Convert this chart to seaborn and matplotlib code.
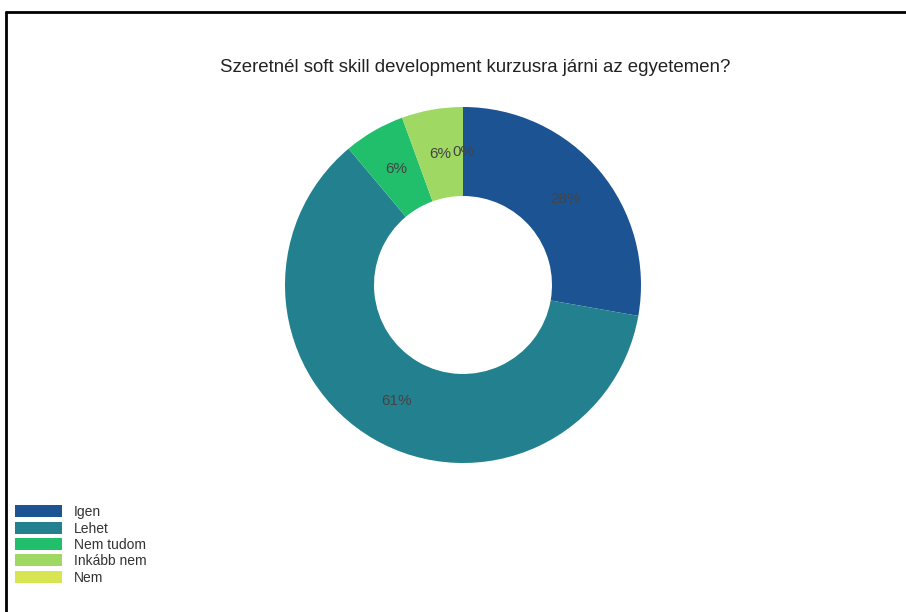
import matplotlib
matplotlib.use("Agg")
import matplotlib.pyplot as plt
from matplotlib.patches import Patch
from matplotlib.lines import Line2D
import seaborn as sns

categories = ["Igen", "Lehet", "Nem tudom", "Inkább nem", "Nem"]
counts = [5, 11, 1, 1, 0]
colors_hex = ["#1c5393", "#23818f", "#21be6b", "#9fd863", "#d8e552"]
title = "Szeretnél soft skill development kurzusra járni az egyetemen?"

sns.set_theme(style="white")
plt.rcParams["font.family"] = ["Liberation Sans", "DejaVu Sans"]

palette = sns.color_palette(colors_hex)

W, H = 906, 612
fig = plt.figure(figsize=(W / 100, H / 100), dpi=100)
fig.patch.set_facecolor("white")

cx, cy, r = 463, 285, 178
ax = fig.add_axes([(cx - r) / W, (H - cy - r) / H, 2 * r / W, 2 * r / H])
wedges, texts, autotexts = ax.pie(
    counts, colors=palette, startangle=90, counterclock=False, radius=1,
    wedgeprops=dict(width=0.5, linewidth=0), autopct="%.0f%%", pctdistance=0.75,
    textprops=dict(color="#444444", fontsize=11),
)
ax.set_xlim(-1, 1)
ax.set_ylim(-1, 1)
ax.set_aspect("equal")
ax.axis("off")

fig.text(475 / W, 1 - 67 / H, title, ha="center", va="center", fontsize=13.4, color="#222222")

handles = [Patch(facecolor=c, edgecolor="none") for c in palette]
leg = fig.legend(handles, categories, loc="lower left", bbox_to_anchor=(14 / W, 26 / H),
                 frameon=False, fontsize=10, handlelength=3.35, handleheight=0.95,
                 handletextpad=0.85, labelspacing=0.17, borderpad=0.1, borderaxespad=0)
for t in leg.get_texts():
    t.set_color("#333333")

fig.add_artist(Line2D([6 / W, 1.0], [1 - 12 / H, 1 - 12 / H], color="black", linewidth=2, transform=fig.transFigure))
fig.add_artist(Line2D([6 / W, 6 / W], [1 - 12 / H, 0.0], color="black", linewidth=2, transform=fig.transFigure))

fig.savefig("out.png", dpi=100)
